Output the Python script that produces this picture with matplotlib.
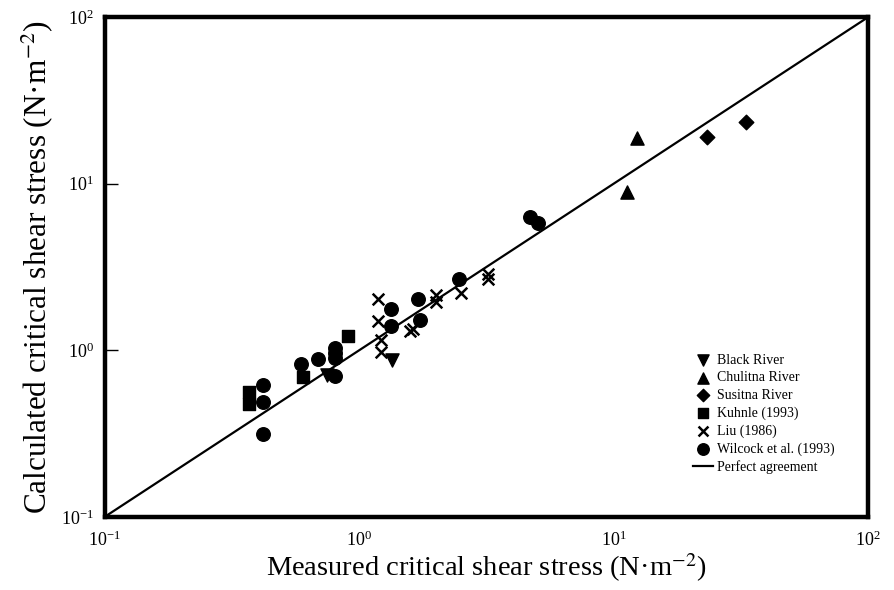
import matplotlib
matplotlib.use('Agg')
import matplotlib.pyplot as plt

plt.rcParams['font.family'] = ['Liberation Serif', 'DejaVu Serif']
plt.rcParams['mathtext.fontset'] = 'stix'

# measured vs calculated critical shear stress (N/m2)
black_x = [0.75, 1.35]
black_y = [0.71, 0.87]

chulitna_x = [11.3, 12.4]
chulitna_y = [8.96, 18.7]

susitna_x = [23.3, 33.0]
susitna_y = [19.0, 23.5]

kuhnle_x = [0.37, 0.37, 0.60, 0.90]
kuhnle_y = [0.565, 0.476, 0.69, 1.21]

liu_x = [1.19, 1.19, 1.22, 1.22, 1.58, 1.62, 2.01, 2.01, 2.51, 3.21, 3.21]
liu_y = [2.03, 1.49, 1.15, 0.98, 1.31, 1.35, 2.15, 1.96, 2.20, 2.86, 2.67]

wilcock_x = [0.42, 0.42, 0.42, 0.59, 0.69, 0.80, 0.80, 0.80, 0.80,
             1.33, 1.33, 1.71, 1.73, 2.47, 4.69, 5.06]
wilcock_y = [0.62, 0.49, 0.315, 0.83, 0.89, 1.03, 0.96, 0.90, 0.70,
             1.76, 1.40, 2.02, 1.52, 2.69, 6.28, 5.78]

lims = [0.1, 100]

fig = plt.figure(figsize=(8.95, 5.9), dpi=100)
ax = fig.add_axes([0.117, 0.124, 0.853, 0.847])

ax.scatter(black_x, black_y, marker='v', s=90, color='black', label='Black River', zorder=3)
ax.scatter(chulitna_x, chulitna_y, marker='^', s=90, color='black', label='Chulitna River', zorder=3)
ax.scatter(susitna_x, susitna_y, marker='D', s=55, color='black', label='Susitna River', zorder=3)
ax.scatter(kuhnle_x, kuhnle_y, marker='s', s=70, color='black', label='Kuhnle (1993)', zorder=3)
ax.scatter(liu_x, liu_y, marker='x', s=70, color='black', linewidths=1.8, label='Liu (1986)', zorder=3)
ax.scatter(wilcock_x, wilcock_y, marker='o', s=95, color='black', label='Wilcock et al. (1993)', zorder=3)
ax.plot(lims, lims, color='black', lw=1.6, label='Perfect agreement')

ax.set_xscale('log')
ax.set_yscale('log')
ax.set_xlim(lims)
ax.set_ylim(lims)

ax.minorticks_off()
ax.tick_params(axis='x', length=0, labelsize=13, pad=10)
ax.tick_params(axis='y', direction='in', length=9, width=1, labelsize=13, pad=8)
for s in ax.spines.values():
    s.set_linewidth(3.2)

ax.set_xlabel('Measured critical shear stress (N·m$^{-2}$)', fontsize=20.5, labelpad=1)
ax.set_ylabel('Calculated critical shear stress (N·m$^{-2}$)', fontsize=22.5, labelpad=4)

ax.legend(loc='upper left', bbox_to_anchor=(0.762, 0.34), frameon=False,
          fontsize=10, handlelength=1.4, handletextpad=0.3, labelspacing=0.32,
          borderpad=0, markerscale=0.85)

fig.savefig('out.png', dpi=100)
